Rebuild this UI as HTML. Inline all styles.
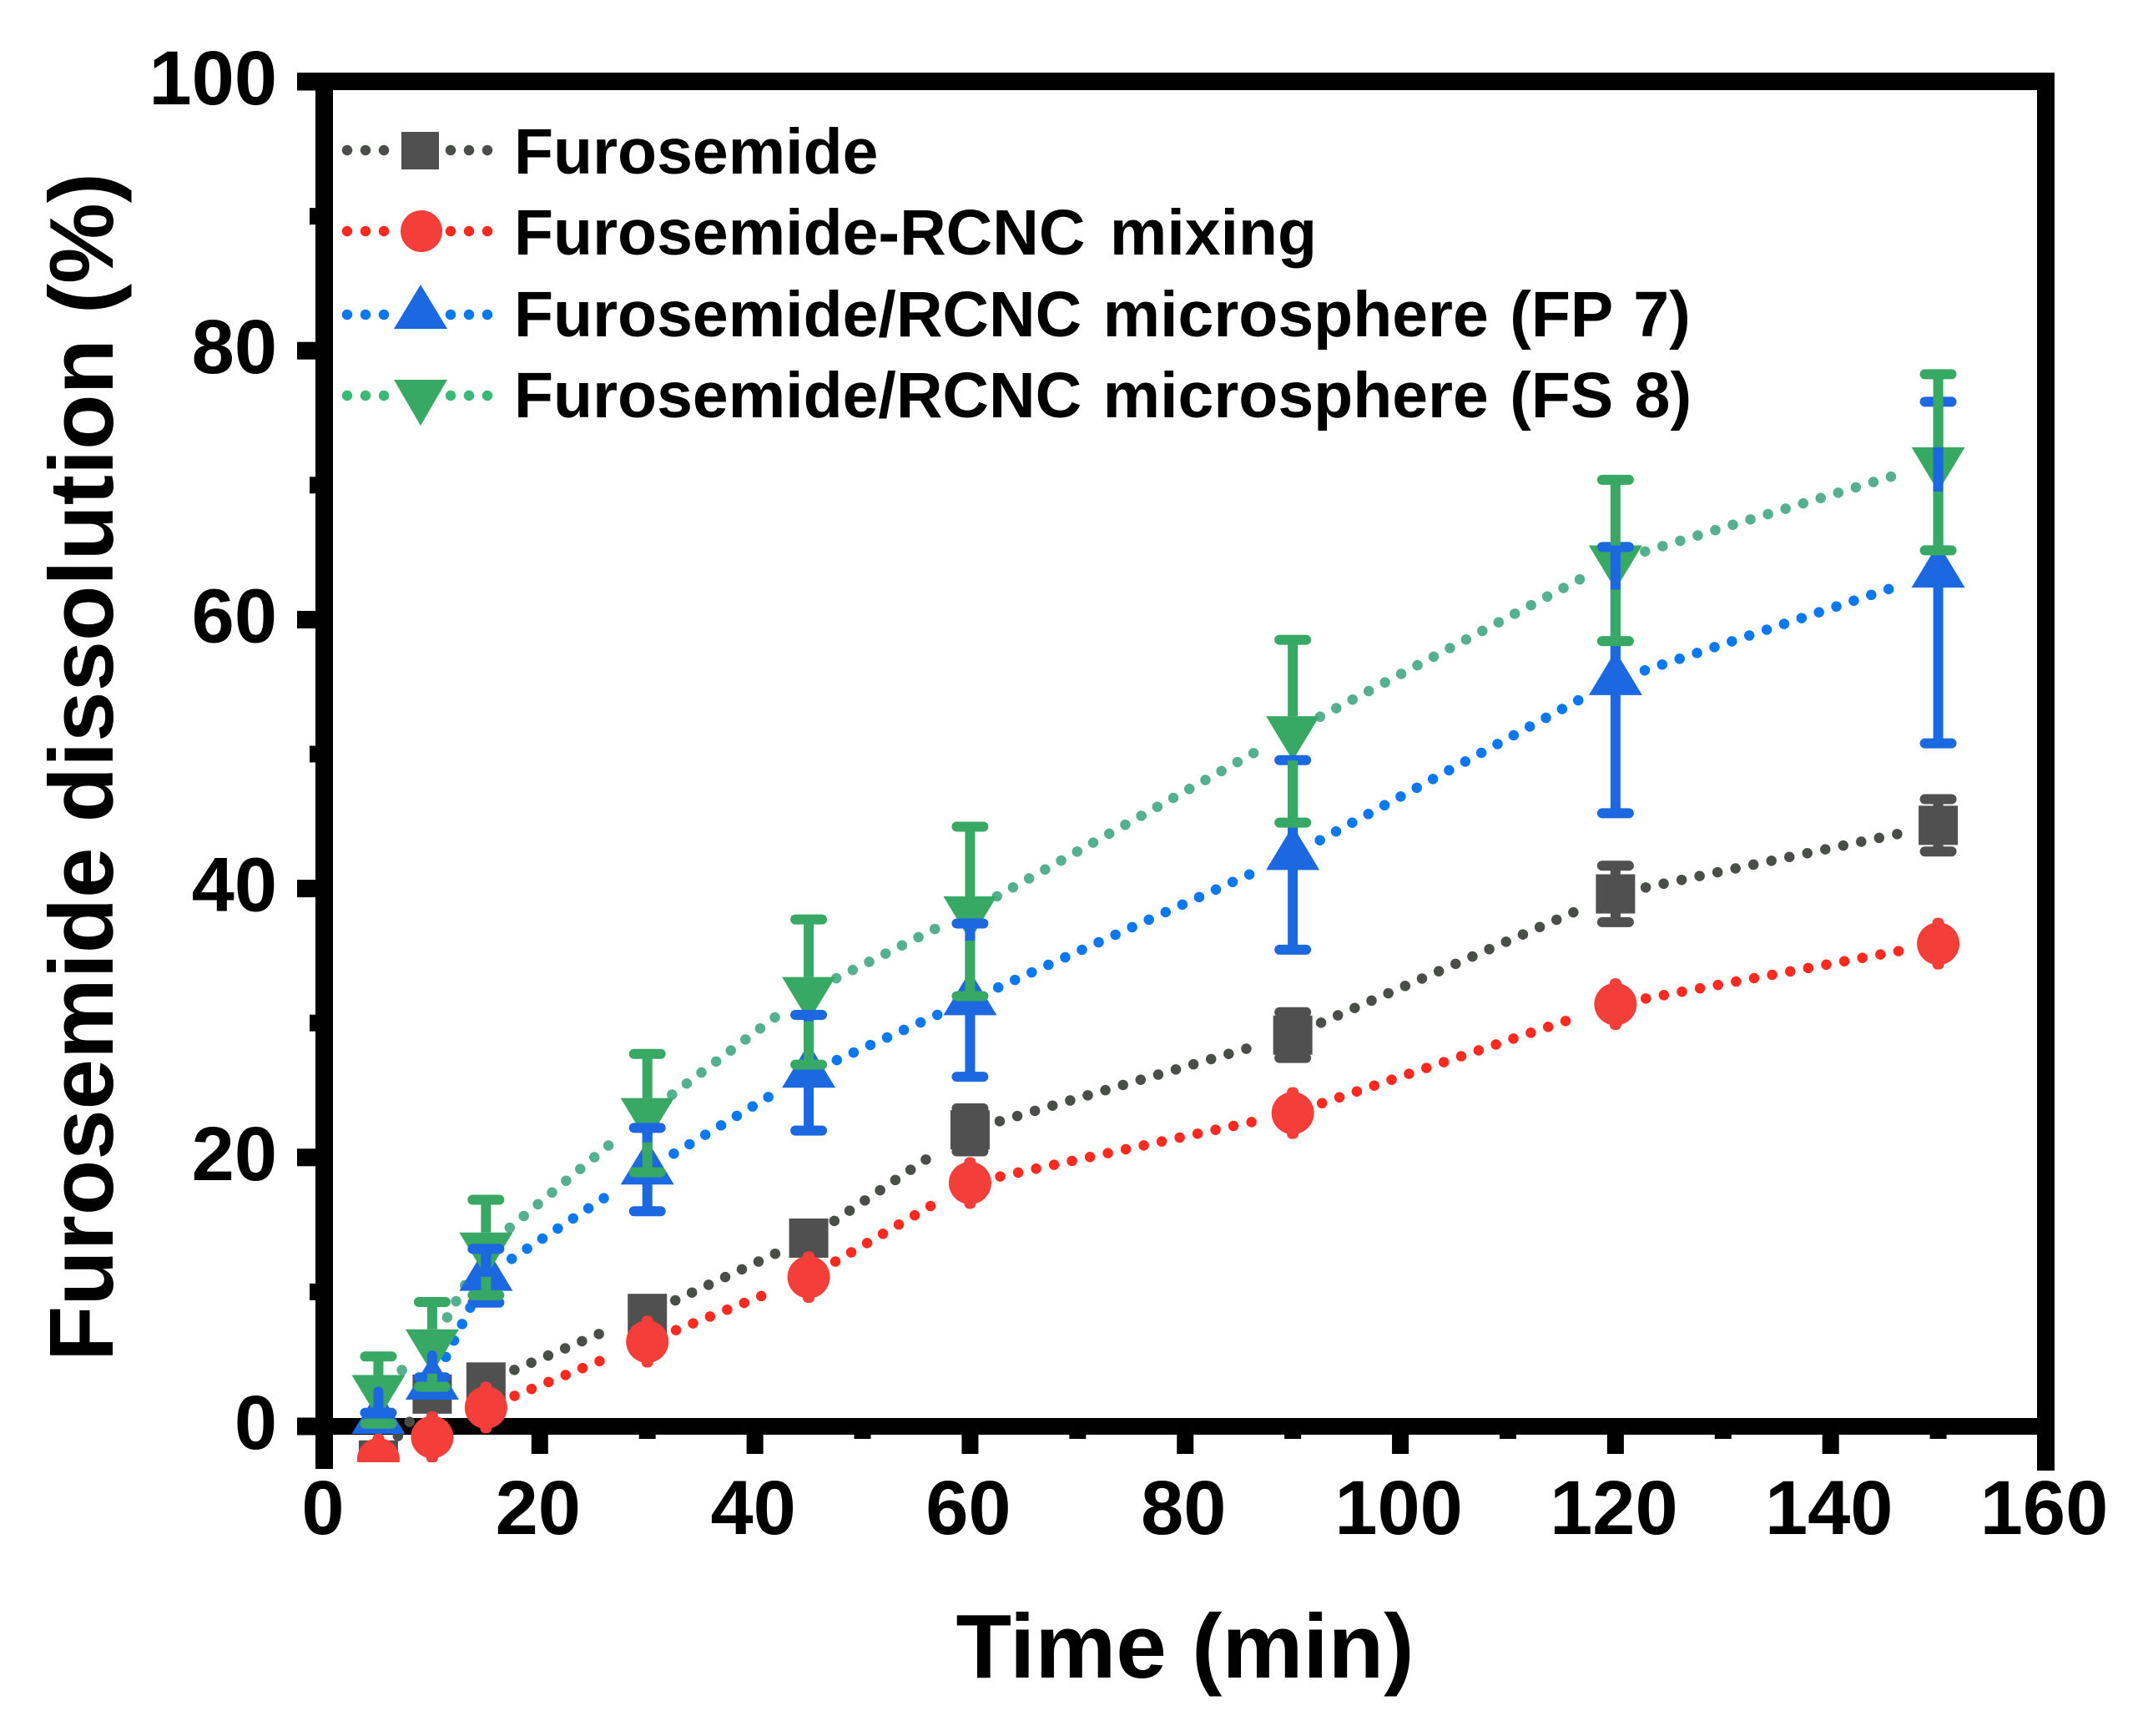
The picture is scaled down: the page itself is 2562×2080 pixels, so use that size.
<!DOCTYPE html>
<html lang="en">
<head>
<meta charset="utf-8">
<title>Furosemide dissolution</title>
<style>
html,body{margin:0;padding:0;background:#fff}
svg{display:block}
text{font-family:"Liberation Sans",Arial,sans-serif;font-weight:bold;fill:#000}
</style>
</head>
<body>
<svg id="chart" xmlns="http://www.w3.org/2000/svg" width="2562" height="2080" viewBox="0 0 2562 2080">
<defs><clipPath id="plot-clip"><rect x="340" y="60" width="2140" height="1692"/></clipPath></defs>
<rect width="2562" height="2080" fill="#fff"/>
<g id="axes"></g>
<g id="marks" clip-path="url(#plot-clip)"></g>
<text x="1420" y="2010" font-size="109" text-anchor="middle">Time (min)</text>
<text transform="translate(135 1631) rotate(-90)" font-size="108.6">Furosemide dissolution (%)</text>
<g>
  <g>
    <path d="M416 180H461M540 180H585" stroke="#4a4e48" stroke-width="12.5" stroke-linecap="round" stroke-dasharray="0 22" fill="none"/>
    <rect x="481" y="158" width="45" height="45" fill="#505050"/>
    <text x="616" y="208" font-size="77">Furosemide</text>
  </g>
  <g>
    <path d="M416 277H461M540 277H585" stroke="#ff2a1f" stroke-width="12.5" stroke-linecap="round" stroke-dasharray="0 22" fill="none"/>
    <circle cx="505" cy="277" r="25" fill="#f43e3a"/>
    <text x="616" y="305" font-size="77" word-spacing="8">Furosemide-RCNC mixing</text>
  </g>
  <g>
    <path d="M416 377H461M540 377H585" stroke="#0a78f0" stroke-width="12.5" stroke-linecap="round" stroke-dasharray="0 22" fill="none"/>
    <polygon points="504,341 536,394 472,394" fill="#1b68e0"/>
    <text x="616" y="403" font-size="77" word-spacing="4">Furosemide/RCNC microsphere (FP 7)</text>
  </g>
  <g>
    <path d="M416 474H461M540 474H585" stroke="#3cb878" stroke-width="12.5" stroke-linecap="round" stroke-dasharray="0 22" fill="none"/>
    <polygon points="472,455 536,455 504,510" fill="#38a865"/>
    <text x="616" y="500" font-size="77" word-spacing="4">Furosemide/RCNC microsphere (FS 8)</text>
  </g>
</g>
</svg>
<script>
// ---- chart data ----
const times = [5, 10, 15, 30, 45, 60, 90, 120, 150];
const furosemide = [-2.5, 2.4, 3.3, 8.4, 14, 22.05, 29.1, 39.6, 44.7];
const furosemideErr = [1, 1, 1, 1, 1, 1.6, 1.7, 2.1, 1.95];
const mixing = [-2.45, -0.8, 1.4, 6.3, 11.1, 18.1, 23.3, 31.4, 35.9];
const mixingErr = [1.55, 1.55, 1.55, 1.55, 1.55, 1.55, 1.55, 1.55, 1.55];
const fp7 = [0.56, 3.1, 11.2, 19.1, 26.3, 31.7, 42.5, 55.5, 63.5];
const fp7Err = [0.45, 0.55, 2, 3.1, 4.3, 5.7, 7.05, 9.9, 12.7];
const fp7UpperStem = [2.4, 2.55, 2, 3.1, 4.3, 5.7, 7.05, 9.9, 12.7];
const fs8 = [2.7, 6.1, 13.3, 23.3, 32.3, 38.3, 51.7, 64.4, 71.7];
const fs8Err = [2.5, 3.15, 3.55, 4.4, 5.4, 6.3, 6.8, 6, 6.55];
const xTickLabels = [0, 20, 40, 60, 80, 100, 120, 140, 160];
const xMinorTicks = [10, 30, 50, 70, 90, 110, 130, 150];
const yTickLabels = [0, 20, 40, 60, 80, 100];
const yMinorTicks = [10, 30, 50, 70, 90];

// ---- axis functions ----
const X0 = 389, X160 = 2451.5, Y0 = 1709, Y100 = 98;
const sx = v => X0 + (X160 - X0) * v / 160;
const sy = v => Y0 + (Y100 - Y0) * v / 100;
const NS = 'http://www.w3.org/2000/svg';
const marks = document.getElementById('marks');
const axes = document.getElementById('axes');

function mk(tag, parent, attrs) {
  const el = document.createElementNS(NS, tag);
  for (const k in attrs) el.setAttribute(k, attrs[k]);
  parent.appendChild(el);
  return el;
}

function drawLine(values, color, name) {
  let d = '';
  const startGap = 37, endGap = 42;
  for (let i = 0; i < times.length - 1; i++) {
    const x1 = sx(times[i]), y1 = sy(values[i]), x2 = sx(times[i + 1]), y2 = sy(values[i + 1]);
    const len = Math.hypot(x2 - x1, y2 - y1);
    if (len <= startGap + endGap) continue;
    const ux = (x2 - x1) / len, uy = (y2 - y1) / len;
    d += 'M' + (x1 + ux * startGap) + ' ' + (y1 + uy * startGap) + 'L' + (x2 - ux * endGap) + ' ' + (y2 - uy * endGap);
  }
  const el = mk('path', marks, { d: d, fill: 'none', stroke: color, 'stroke-width': 12.5, 'stroke-linecap': 'round', 'stroke-dasharray': '0 22' });
  
  
}

function drawErrors(values, errs, color, name, capW, gapTop, gapBottom) {
  values.forEach((v, i) => {
    const x = sx(times[i]), yHi = sy(v + errs[i]), yLo = sy(v - errs[i]), yC = sy(v);
    const g = mk('g', marks, {});
    
    
    if (gapTop || gapBottom) {
      mk('rect', g, { x: x - 6, y: yHi, width: 12, height: Math.max(0, yC - gapTop - yHi), fill: color });
      mk('rect', g, { x: x - 6, y: yC + gapBottom, width: 12, height: Math.max(0, yLo - yC - gapBottom), fill: color });
    } else {
      mk('rect', g, { x: x - 6, y: yHi, width: 12, height: yLo - yHi, fill: color });
    }
    mk('rect', g, { x: x - capW / 2, y: yHi - 6, width: capW, height: 12, rx: 6, fill: color });
    mk('rect', g, { x: x - capW / 2, y: yLo - 6, width: capW, height: 12, rx: 6, fill: color });
  });
}

function drawUpperStems(values, ups, color, name) {
  values.forEach((v, i) => {
    const x = sx(times[i]), yHi = sy(v + ups[i]), yC = sy(v);
    const el = mk('rect', marks, { x: x - 6, y: yHi, width: 12, height: yC - yHi, rx: 6, fill: color });
    
    
  });
}

function drawMarkers(values, shape, color, name) {
  values.forEach((v, i) => {
    const x = sx(times[i]), y = sy(v);
    let el;
    if (shape === 'square') el = mk('rect', marks, { x: x - 23.5, y: y - 23.5, width: 47, height: 47, fill: color });
    if (shape === 'circle') el = mk('circle', marks, { cx: x, cy: y, r: 25.5, fill: color });
    if (shape === 'up') el = mk('polygon', marks, { points: [x, y - 35, x + 32, y + 18, x - 32, y + 18].join(' '), fill: color });
    if (shape === 'down') el = mk('polygon', marks, { points: [x - 32, y - 18, x + 32, y - 18, x, y + 35].join(' '), fill: color });
    
    
  });
}

// ---- axes (drawn beneath the series) ----
const spines = [
  [356, 87, 2106, 21],
  [378, 87, 21, 1673],
  [2441, 87, 21, 1675],
  [356, 1699, 2106, 20]
];
spines.forEach(s => {
  const el = mk('rect', axes, { x: s[0], y: s[1], width: s[2], height: s[3], fill: '#000' });
  
  
});
yTickLabels.forEach(v => {
  const t = mk('rect', axes, { x: 356, y: sy(v) - 10.5, width: 24, height: 21, fill: '#000' });
  
  
  const l = mk('text', axes, { x: 332, y: sy(v) + 27, 'font-size': 92, 'text-anchor': 'end' });
  l.textContent = v;
  
  
});
yMinorTicks.forEach(v => {
  const t = mk('rect', axes, { x: 371, y: sy(v) - 10, width: 9, height: 20, fill: '#000' });
  
  
});
xTickLabels.forEach(v => {
  if (v > 0 && v < 160) {
    const t = mk('rect', axes, { x: sx(v) - 10, y: 1715, width: 20, height: 27, fill: '#000' });
    
    
  }
  const l = mk('text', axes, { x: sx(v) - 2, y: 1838, 'font-size': 92, 'text-anchor': 'middle' });
  l.textContent = v;
  
  
});
xMinorTicks.forEach(v => {
  const t = mk('rect', axes, { x: sx(v) - 10, y: 1715, width: 20, height: 9, fill: '#000' });
  
  
});

// ---- series, back to front ----
drawLine(furosemide, '#4a4e48', 'furosemide');
drawErrors(furosemide, furosemideErr, '#505050', 'furosemide', 44, 0, 0);
drawMarkers(furosemide, 'square', '#505050', 'furosemide');

drawLine(mixing, '#ff2a1f', 'mixing');
drawErrors(mixing, mixingErr, '#f43e3a', 'mixing', 14, 0, 0);
drawMarkers(mixing, 'circle', '#f43e3a', 'mixing');

drawLine(fs8, '#55b090', 'fs8');
drawLine(fp7, '#0a78f0', 'fp7');
drawMarkers(fp7, 'up', '#1b68e0', 'fp7');
drawMarkers(fs8, 'down', '#38a865', 'fs8');
drawUpperStems(fp7, fp7UpperStem, '#1b68e0', 'fp7');
drawErrors(fp7, fp7Err, '#1b68e0', 'fp7', 44, 0, 0);
drawErrors(fs8, fs8Err, '#38a865', 'fs8', 44, 18, 35);
</script>
</body>
</html>
